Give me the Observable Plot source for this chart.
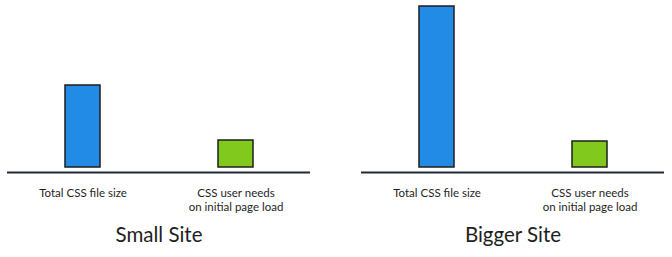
<!DOCTYPE html>
<html><head><meta charset="utf-8">
<script src="https://cdn.jsdelivr.net/npm/d3@7"></script>
<script src="https://cdn.jsdelivr.net/npm/@observablehq/plot@0.6"></script>
<style>body{margin:0;background:#fff}</style>
</head><body><div id="chart"></div>
<script>
const siteOrder = ["Small Site", "Bigger Site"];
const measureOrder = ["Total CSS file size", "CSS user needs\non initial page load"];
const sites = ["Small Site", "Small Site", "Bigger Site", "Bigger Site"];
const measures = ["Total CSS file size", "CSS user needs\non initial page load", "Total CSS file size", "CSS user needs\non initial page load"];
const sizes = [82, 27, 161, 26];
const barColors = ["#228be6", "#82c91e"];

const data = sites.map((s, i) => ({site: s, measure: measures[i], size: sizes[i]}));

const chart = Plot.plot({
  width: 672, height: 257,
  marginLeft: 7, marginRight: 7, marginTop: 6, marginBottom: 90,
  style: {fontFamily: "Lato, sans-serif", color: "#1e1e1e", background: "white"},
  fx: {domain: siteOrder, paddingInner: 0.144, paddingOuter: 0, label: null},
  x: {domain: measureOrder, paddingInner: 0.772, paddingOuter: 0.3745, label: null},
  y: {domain: [0, 161], axis: null},
  color: {domain: measureOrder, range: barColors},
  marks: [
    Plot.ruleY([0], {dy: 5, stroke: "#1e2a35", strokeWidth: 2}),
    Plot.barY(data, {fx: "site", x: "measure", y: "size", fill: "measure", stroke: "#1e1e1e", strokeWidth: 1.5}),
    Plot.axisX({tickSize: 0, tickPadding: 20, fontSize: 11.5, lineHeight: 1.2, label: null}),
    Plot.axisFx({anchor: "bottom", tickSize: 0, tickPadding: 60, fontSize: 20.5, label: null})
  ]
});
document.getElementById("chart").append(chart);
</script>
</body></html>
